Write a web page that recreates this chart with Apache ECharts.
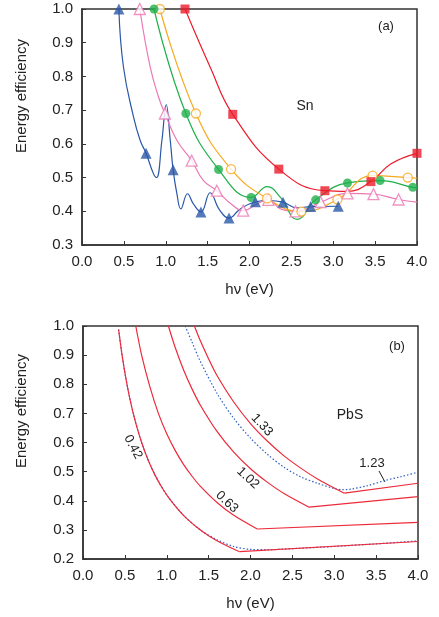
<!DOCTYPE html>
<html><head><meta charset="utf-8">
<script src="https://cdn.jsdelivr.net/npm/echarts@6/dist/echarts.min.js"></script>
<style>html,body{margin:0;padding:0;background:#fff}#c{width:439px;height:617px}</style>
</head><body><div id="c"></div>
<script>
// ---------- tick labels ----------
const xTickLabels = ['0.0','0.5','1.0','1.5','2.0','2.5','3.0','3.5','4.0'];
const yTickLabelsA = ['0.3','0.4','0.5','0.6','0.7','0.8','0.9','1.0'];
const yTickLabelsB = ['0.2','0.3','0.4','0.5','0.6','0.7','0.8','0.9','1.0'];

// ---------- Panel (a): Sn — curves and markers, [hv, efficiency] ----------
const blueLine = [[0.44,1.0],[0.495,0.828],[0.615,0.68],[0.695,0.61],[0.765,0.572],[0.854,0.511],[0.89,0.5],[0.954,0.61],[1.006,0.716],[1.054,0.61],[1.088,0.523],[1.134,0.451],[1.18,0.407],[1.26,0.452],[1.33,0.422],[1.42,0.398],[1.53,0.455],[1.64,0.405],[1.755,0.38],[1.89,0.407],[2.07,0.428],[2.23,0.432],[2.40,0.427],[2.57,0.41],[2.73,0.414],[3.06,0.415]];
const blueMarks = [[0.44,1.0],[0.765,0.572],[1.088,0.523],[1.42,0.398],[1.755,0.38],[2.07,0.428],[2.40,0.427],[2.73,0.414],[3.06,0.415]];

const pinkLine = [[0.69,1.0],[0.814,0.828],[0.914,0.739],[0.99,0.69],[1.134,0.61],[1.31,0.55],[1.45,0.491],[1.61,0.461],[1.77,0.424],[1.925,0.402],[2.09,0.422],[2.225,0.434],[2.37,0.407],[2.55,0.40],[2.85,0.427],[3.17,0.453],[3.48,0.451],[3.78,0.435],[4.0,0.427]];
const pinkMarks = [[0.69,1.0],[0.99,0.69],[1.31,0.55],[1.61,0.461],[1.925,0.402],[2.225,0.434],[2.55,0.40],[2.85,0.427],[3.17,0.453],[3.48,0.451],[3.78,0.435]];

const greenLine = [[0.86,1.0],[1.24,0.69],[1.63,0.524],[2.02,0.441],[2.21,0.473],[2.37,0.441],[2.57,0.376],[2.79,0.434],[3.17,0.484],[3.56,0.491],[3.95,0.471],[4.0,0.47]];
const greenMarks = [[0.86,1.0],[1.24,0.69],[1.63,0.524],[2.02,0.441],[2.79,0.434],[3.17,0.484],[3.56,0.491],[3.95,0.471]];

const orangeLine = [[0.93,1.0],[1.36,0.69],[1.78,0.525],[2.21,0.438],[2.62,0.399],[3.05,0.435],[3.47,0.506],[3.89,0.50],[4.0,0.498]];
const orangeMarks = [[0.93,1.0],[1.36,0.69],[1.78,0.525],[2.21,0.438],[2.62,0.399],[3.05,0.435],[3.47,0.506],[3.89,0.50]];

const redLine = [[1.23,1.0],[1.53,0.828],[1.80,0.6875],[2.35,0.525],[2.90,0.461],[3.17,0.459],[3.45,0.488],[3.69,0.541],[4.0,0.572]];
const redMarks = [[1.23,1.0],[1.80,0.6875],[2.35,0.525],[2.90,0.461],[3.45,0.488],[4.0,0.572]];

// ---------- Panel (b): PbS — curved part ends at the kink; tail is a straight segment ----------
const red042 = [[0.425,0.988],[0.46,0.913],[0.49,0.857],[0.53,0.792],[0.56,0.75],[0.6,0.70],[0.64,0.656],[0.7,0.60],[0.78,0.538],[0.86,0.488],[0.95,0.442],[1.04,0.404],[1.2,0.35],[1.36,0.309],[1.5,0.28],[1.65,0.255],[1.87,0.225]];
const red042Tail = [[1.87,0.225],[4.0,0.26]];
const red063 = [[0.63,1.0],[0.7,0.9],[0.8,0.79],[0.9,0.70],[1.0,0.63],[1.1,0.573],[1.2,0.525],[1.3,0.485],[1.4,0.45],[1.6,0.394],[1.8,0.35],[2.08,0.303]];
const red063Tail = [[2.08,0.303],[4.0,0.326]];
const red102 = [[1.02,1.0],[1.1,0.927],[1.2,0.85],[1.3,0.785],[1.4,0.729],[1.6,0.638],[1.8,0.567],[2.0,0.51],[2.2,0.464],[2.4,0.425],[2.7,0.378]];
const red102Tail = [[2.7,0.378],[4.0,0.414]];
const red133 = [[1.33,1.0],[1.4,0.95],[1.5,0.887],[1.6,0.83],[1.8,0.739],[2.0,0.665],[2.2,0.605],[2.4,0.554],[2.6,0.512],[2.8,0.475],[3.12,0.426]];
const red133Tail = [[3.12,0.426],[4.0,0.46]];
const blue042 = [[0.425,0.988],[0.46,0.913],[0.5,0.84],[0.55,0.764],[0.6,0.70],[0.7,0.60],[0.8,0.525],[0.9,0.467],[1.0,0.42],[1.2,0.35],[1.4,0.30],[1.6,0.266],[1.8,0.243],[2.0,0.233],[2.2,0.232],[2.6,0.237],[3.0,0.243],[3.5,0.252],[4.0,0.262]];
const blue123 = [[1.22,1.0],[1.3,0.946],[1.4,0.879],[1.6,0.769],[1.8,0.683],[2.0,0.615],[2.2,0.56],[2.4,0.515],[2.6,0.482],[2.8,0.46],[3.0,0.442],[3.1,0.438],[3.2,0.44],[3.4,0.452],[3.6,0.469],[3.8,0.483],[4.0,0.498]];

const FONT = 'Liberation Sans, Arial, sans-serif';
const C = {blue:'#2a58a8', pink:'#ec78b4', green:'#1fb04b', orange:'#f8a81e', red:'#ec1c2c', pbsRed:'#ec2a3a', pbsBlue:'#2f5fc4'};

function xAxis(gi){
  return {type:'value', gridIndex:gi, min:0, max:4, interval:0.5,
    name:'hν (eV)', nameLocation:'middle', nameGap:37,
    nameTextStyle:{fontFamily:FONT, fontSize:15, color:'#222'},
    axisLine:{lineStyle:{color:'#333', width:1.5}},
    axisTick:{inside:true, length:4, lineStyle:{color:'#333'}},
    axisLabel:{fontFamily:FONT, fontSize:15, color:'#222', margin:9,
      formatter:v=>xTickLabels[Math.round(v/0.5)]},
    splitLine:{show:false}};
}
function yAxis(gi, min, labels){
  return {type:'value', gridIndex:gi, min:min, max:1.0, interval:0.1,
    axisLine:{show:true, lineStyle:{color:'#333', width:1.5}},
    axisTick:{show:true, inside:true, length:4, lineStyle:{color:'#333'}},
    axisLabel:{fontFamily:FONT, fontSize:15, color:'#222', margin:9,
      formatter:v=>labels[Math.round((v-min)/0.1)]},
    splitLine:{show:false}};
}
function curve(data, color, gi, smooth, dotted){
  return {type:'line', xAxisIndex:gi, yAxisIndex:gi, data:data, smooth:smooth, showSymbol:false,
    lineStyle:{color:color, width:1.2, type: dotted ? [1.5,2] : 'solid'}, silent:true, z:2};
}
function marks(data, color, symbol, size, hollow){
  return {type:'scatter', xAxisIndex:0, yAxisIndex:0, data:data, symbol:symbol, symbolSize:size, clip:false,
    itemStyle: hollow ? {color:'#fff', borderColor:color, borderWidth:1.3} : {color:color}, z:3, silent:true};
}

const chart = echarts.init(document.getElementById('c'), null, {renderer:'canvas'});
chart.setOption({
  animation:false,
  backgroundColor:'#fff',
  grid:[
    {left:82, top:9, width:335, height:236, show:true, borderColor:'#333', borderWidth:1.5},
    {left:83, top:326, width:335, height:233, show:true, borderColor:'#333', borderWidth:1.5}
  ],
  xAxis:[xAxis(0), xAxis(1)],
  yAxis:[yAxis(0, 0.3, yTickLabelsA), yAxis(1, 0.2, yTickLabelsB)],
  series:[
    curve(blueLine, C.blue, 0, 0.45),
    curve(pinkLine, C.pink, 0, 0.45),
    curve(greenLine, C.green, 0, 0.45),
    curve(orangeLine, C.orange, 0, 0.45),
    curve(redLine, C.red, 0, 0.45),
    marks(pinkMarks, C.pink, 'triangle', 11, true),
    marks(orangeMarks, C.orange, 'circle', 9, true),
    marks(greenMarks, C.green, 'circle', 9, false),
    marks(redMarks, C.red, 'rect', 9, false),
    marks(blueMarks, C.blue, 'triangle', 11, false),
    curve(blue042, C.pbsBlue, 1, 0.3, true),
    curve(blue123, C.pbsBlue, 1, 0.3, true),
    curve(red042, C.pbsRed, 1, 0.3, false),
    curve(red042Tail, C.pbsRed, 1, false),
    curve(red063, C.pbsRed, 1, 0.3, false),
    curve(red063Tail, C.pbsRed, 1, false),
    curve(red102, C.pbsRed, 1, 0.3, false),
    curve(red102Tail, C.pbsRed, 1, false),
    curve(red133, C.pbsRed, 1, 0.3, false),
    curve(red133Tail, C.pbsRed, 1, false)
  ],
  graphic:[
    {type:'text', x:22, y:96, rotation:Math.PI/2, style:{text:'Energy efficiency', font:'15px '+FONT, fill:'#222', align:'center', verticalAlign:'middle'}},
    {type:'text', x:22, y:411, rotation:Math.PI/2, style:{text:'Energy efficiency', font:'15px '+FONT, fill:'#222', align:'center', verticalAlign:'middle'}},
    {type:'text', x:386, y:26, style:{text:'(a)', font:'13px '+FONT, fill:'#222', align:'center', verticalAlign:'middle'}},
    {type:'text', x:305, y:106, style:{text:'Sn', font:'14px '+FONT, fill:'#222', align:'center', verticalAlign:'middle'}},
    {type:'text', x:397, y:346, style:{text:'(b)', font:'13px '+FONT, fill:'#222', align:'center', verticalAlign:'middle'}},
    {type:'text', x:350, y:415, style:{text:'PbS', font:'14px '+FONT, fill:'#222', align:'center', verticalAlign:'middle'}},
    {type:'text', x:133, y:447, rotation:-62*Math.PI/180, style:{text:'0.42', font:'13px '+FONT, fill:'#222', align:'center', verticalAlign:'middle'}},
    {type:'text', x:227, y:502, rotation:-43*Math.PI/180, style:{text:'0.63', font:'13px '+FONT, fill:'#222', align:'center', verticalAlign:'middle'}},
    {type:'text', x:248, y:478, rotation:-43*Math.PI/180, style:{text:'1.02', font:'13px '+FONT, fill:'#222', align:'center', verticalAlign:'middle'}},
    {type:'text', x:262, y:425, rotation:-47*Math.PI/180, style:{text:'1.33', font:'13px '+FONT, fill:'#222', align:'center', verticalAlign:'middle'}},
    {type:'text', x:372, y:463, style:{text:'1.23', font:'13px '+FONT, fill:'#222', align:'center', verticalAlign:'middle'}},
    {type:'line', shape:{x1:379, y1:471, x2:385, y2:482}, style:{stroke:'#222', lineWidth:1}}
  ]
});
</script></body></html>
